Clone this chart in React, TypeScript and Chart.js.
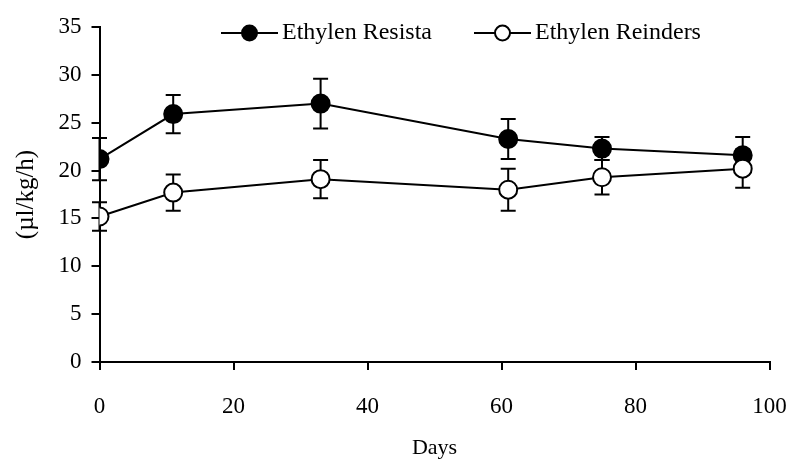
import React, { useEffect, useRef } from "react";
import { Chart, registerables } from "chart.js";

Chart.register(...registerables);

const days = [0, 11, 33, 61, 75, 96];
const resista = [21.2, 25.9, 27.0, 23.3, 22.3, 21.6];
const resistaErr = [2.2, 2.0, 2.6, 2.1, 1.2, 1.9];
const reinders = [15.2, 17.7, 19.1, 18.0, 19.3, 20.2];
const reindersErr = [1.5, 1.9, 2.0, 2.2, 1.8, 2.0];
const seriesNames = ["Ethylen Resista", "Ethylen Reinders"];
const xTitle = "Days";
const yTitle = "(\u00b5l/kg/h)";

const FONT = "'Liberation Serif', 'Times New Roman', serif";

const errorBarPlugin = {
  id: "errorBars",
  beforeDatasetsDraw(chart: any) {
    const { ctx, scales } = chart;
    const x = scales.x;
    const y = scales.y;
    const sets = [
      { vals: resista, errs: resistaErr },
      { vals: reinders, errs: reindersErr },
    ];
    ctx.save();
    ctx.strokeStyle = "#000";
    ctx.lineWidth = 2;
    const cap = 7.5;
    sets.forEach((s) => {
      s.vals.forEach((v, i) => {
        const px = x.getPixelForValue(days[i]);
        const top = y.getPixelForValue(v + s.errs[i]);
        const bot = y.getPixelForValue(v - s.errs[i]);
        ctx.beginPath();
        ctx.moveTo(px, top);
        ctx.lineTo(px, bot);
        ctx.moveTo(px - cap, top);
        ctx.lineTo(px + cap, top);
        ctx.moveTo(px - cap, bot);
        ctx.lineTo(px + cap, bot);
        ctx.stroke();
      });
    });
    ctx.restore();
  },
};

const legendPlugin = {
  id: "customLegend",
  afterDraw(chart: any) {
    const { ctx } = chart;
    const items = [
      { name: seriesNames[0], x0: 221, filled: true },
      { name: seriesNames[1], x0: 474, filled: false },
    ];
    const yc = 33;
    ctx.save();
    ctx.font = `24px ${FONT}`;
    ctx.textBaseline = "middle";
    ctx.textAlign = "left";
    items.forEach((it) => {
      ctx.strokeStyle = "#000";
      ctx.lineWidth = 2;
      ctx.beginPath();
      ctx.moveTo(it.x0, yc);
      ctx.lineTo(it.x0 + 57, yc);
      ctx.stroke();
      ctx.beginPath();
      ctx.arc(it.x0 + 28.5, yc, 7.5, 0, Math.PI * 2);
      ctx.fillStyle = it.filled ? "#000" : "#fff";
      ctx.fill();
      ctx.stroke();
      ctx.fillStyle = "#000";
      ctx.fillText(it.name, it.x0 + 61, yc);
    });
    ctx.restore();
  },
};

export default function App() {
  const ref = useRef<HTMLCanvasElement | null>(null);
  useEffect(() => {
    document.body.style.margin = "0";
    const canvas = ref.current;
    if (!canvas) return;
    const chart = new Chart(canvas, {
      type: "line",
      data: {
        labels: days,
        datasets: [
          {
            label: seriesNames[0],
            data: days.map((d, i) => ({ x: d, y: resista[i] })),
            borderColor: "#000",
            backgroundColor: "#000",
            borderWidth: 2,
            pointRadius: 9,
            pointBorderWidth: 2,
            pointBackgroundColor: "#000",
            pointBorderColor: "#000",
            order: 1,
          },
          {
            label: seriesNames[1],
            data: days.map((d, i) => ({ x: d, y: reinders[i] })),
            borderColor: "#000",
            backgroundColor: "#fff",
            borderWidth: 2,
            pointRadius: 9,
            pointBorderWidth: 2,
            pointBackgroundColor: "#fff",
            pointBorderColor: "#000",
            order: 0,
          },
        ],
      },
      options: {
        responsive: false,
        animation: false,
        layout: { padding: { top: 27, right: 0, left: 0, bottom: 0 } },
        plugins: {
          legend: { display: false },
          tooltip: { enabled: false },
        },
        scales: {
          x: {
            type: "linear",
            min: 0,
            max: 100,
            afterFit: (s: any) => {
              s.height = 99;
              s.paddingRight = 19.5;
            },
            ticks: {
              stepSize: 20,
              color: "#000",
              padding: 23,
              maxRotation: 0,
              font: { family: FONT, size: 23 },
            },
            grid: {
              drawOnChartArea: false,
              drawTicks: true,
              tickLength: 8,
              color: "#000",
              lineWidth: 2,
            },
            border: { display: true, color: "#000", width: 2 },
            title: {
              display: true,
              text: xTitle,
              color: "#000",
              font: { family: FONT, size: 22 },
              padding: { top: 0, bottom: 0 },
            },
          },
          y: {
            min: 0,
            max: 35,
            afterFit: (s: any) => {
              s.width = 99.5;
            },
            ticks: {
              stepSize: 5,
              color: "#000",
              padding: 10,
              font: { family: FONT, size: 23 },
            },
            grid: {
              drawOnChartArea: false,
              drawTicks: true,
              tickLength: 8,
              color: "#000",
              lineWidth: 2,
            },
            border: { display: true, color: "#000", width: 2 },
            title: {
              display: true,
              text: yTitle,
              color: "#000",
              font: { family: FONT, size: 25 },
              padding: { top: 11, bottom: 0 },
            },
          },
        },
      },
      plugins: [errorBarPlugin, legendPlugin],
    });
    return () => chart.destroy();
  }, []);
  return (
    <div style={{ width: 789, height: 461 }}>
      <canvas ref={ref} width={789} height={461} />
    </div>
  );
}
